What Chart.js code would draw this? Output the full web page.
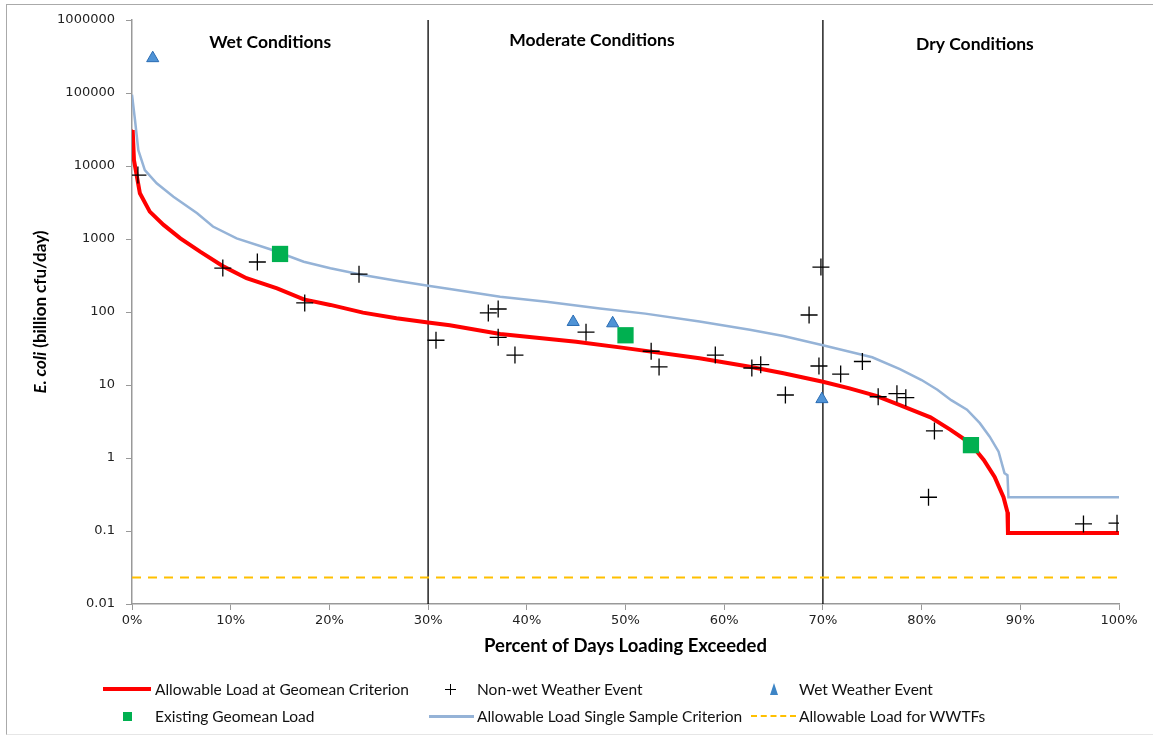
<!DOCTYPE html>
<html>
<head>
<meta charset="utf-8">
<script src="https://cdn.jsdelivr.net/npm/chart.js@4.4.1/dist/chart.umd.min.js"></script>
<style>
  html,body{margin:0;padding:0;background:#fff;}
  #wrap{position:relative;width:1153px;height:736px;overflow:hidden;}
  #frame{position:absolute;left:6px;top:4px;width:1170px;height:729px;border-left:1.5px solid #aaa;border-top:1.5px solid #aaa;border-bottom:1.5px solid #e6e6e6;}
  #chart{position:absolute;left:0;top:0;}
  .lg{position:absolute;font-family:Lato,"Noto Sans",sans-serif;font-size:15.5px;color:#111;white-space:nowrap;line-height:18px;}
  .sym{position:absolute;}
</style>
</head>
<body>
<div id="wrap">
  <div id="frame"></div>
  <canvas id="chart" width="1153" height="736"></canvas>
  <div id="legend"></div>
</div>
<script>
// percent of days exceeded (x) and E. coli load, billion cfu/day (y)
var geoX=[0,0.07,0.2,0.8,1.8,3.2,4.9,6.9,9.3,11.6,14.7,17.4,20.1,23.4,26.8,30,32.2,37.3,45,50,57.5,62.6,66,70,72.7,75.4,77.8,80.9,82.9,84.9,86.3,87.4,88.3,88.7,88.75,100];
var geoY=[30000,31000,12000,4230,2370,1560,1020,670,418,290,211,149,125,98,82,72,66,50,39,32,23.2,17.8,14.5,11.1,9.0,7.1,5.3,3.6,2.45,1.6,0.94,0.55,0.29,0.18,0.094,0.094];

var ssX=[0,0.3,0.64,1.3,2.5,4.2,6.6,8.2,10.6,14,17.4,20.1,23.4,26.8,30,32.2,37.3,42,47.4,52,57.5,62.6,66,70,75,77.8,80,81.6,83,84.6,85.9,86.9,87.8,88.4,88.7,88.8,100];
var ssY=[95000,43000,16500,8800,5800,3800,2250,1480,1020,723,489,397,321,268,229,206,162,138,112,95,74,57,47,35,24,16.5,11.7,8.6,6.2,4.6,3.0,1.96,1.22,0.62,0.58,0.29,0.29];

var wwtfLoad=0.023;

var dryX=[0.6,9.2,12.7,17.5,23,30.8,36.1,37.1,37.1,38.8,46,52.6,53.4,59.1,62.8,63.7,66.2,68.6,69.8,69.6,71.8,74,75.6,77.5,78.4,80.7,81.3,96.4,99.8];
var dryY=[7500,400,484,133,330,41,97,110,45,25.7,53,29,17.7,25.7,17.1,19,7.3,91,413,18.2,14.1,21,6.9,7.6,6.7,0.29,2.35,0.125,0.128];

var wetX=[2.1,44.7,48.7,69.9];
var wetY=[300000,73,70,6.4];

var existX=[15,50,85];
var existY=[624,48,1.5];

var zoneBreaks=[30,70];
var zoneNames=['Wet Conditions','Moderate Conditions','Dry Conditions'];
var zoneLabelX=[14,46.6,85.4];

var yTicks=[0.01,0.1,1,10,100,1000,10000,100000,1000000];
var xTicks=[0,10,20,30,40,50,60,70,80,90,100];

function pts(xs,ys){return xs.map(function(x,i){return {x:x,y:ys[i]};});}

var datasets=[
  {label:'Existing Geomean Load',data:pts(existX,existY),pointStyle:'rect',pointRadius:11.5,backgroundColor:'#00B050',borderWidth:0,showLine:false},
  {label:'Wet Weather Event',data:pts(wetX,wetY),pointStyle:'triangle',pointRadius:7,backgroundColor:'#4F93D6',borderColor:'#2A6CB3',borderWidth:1,showLine:false},
  {label:'Non-wet Weather Event',data:pts(dryX,dryY),pointStyle:'cross',pointRadius:8.5,borderColor:'#000',borderWidth:1.3,showLine:false},
  {label:'Allowable Load at Geomean Criterion',data:pts(geoX,geoY),showLine:true,borderColor:'#FF0000',borderWidth:4,pointRadius:0},
  {label:'Allowable Load Single Sample Criterion',data:pts(ssX,ssY),showLine:true,borderColor:'#95B3D7',borderWidth:2.5,pointRadius:0},
  {label:'Allowable Load for WWTFs',data:[{x:0,y:wwtfLoad},{x:100,y:wwtfLoad}],showLine:true,borderColor:'#FFC000',borderWidth:2,borderDash:[9,7],pointRadius:0}
];
zoneBreaks.forEach(function(b){
  datasets.push({label:'break',data:[{x:b,y:yTicks[0]},{x:b,y:yTicks[yTicks.length-1]}],showLine:true,borderColor:'#000',borderWidth:1.3,pointRadius:0});
});

var textPlugin={
  id:'texts',
  afterDatasetsDraw:function(chart){
    var ctx=chart.ctx, a=chart.chartArea, xs=chart.scales.x;
    ctx.save();
    ctx.fillStyle='#000';
    ctx.textAlign='center';
    ctx.textBaseline='middle';
    ctx.font='bold 17.5px Lato, "Noto Sans", sans-serif';
    zoneNames.forEach(function(n,i){
      ctx.fillText(n,xs.getPixelForValue(zoneLabelX[i]),a.top+22+(i==1?-2:(i==2?2:0)));
    });
    // y title with italic species name
    var cy=(a.top+a.bottom)/2;
    ctx.translate(41,cy);
    ctx.rotate(-Math.PI/2);
    var f1='italic bold 17px Lato, "Noto Sans", sans-serif', f2='bold 17px Lato, "Noto Sans", sans-serif';
    var t1='E. coli', t2=' (billion cfu/day)';
    ctx.font=f1; var w1=ctx.measureText(t1).width;
    ctx.font=f2; var w2=ctx.measureText(t2).width;
    var sx=-(w1+w2)/2;
    ctx.textAlign='left';
    ctx.font=f1; ctx.fillText(t1,sx,0);
    ctx.font=f2; ctx.fillText(t2,sx+w1,0);
    ctx.restore();
  }
};

new Chart(document.getElementById('chart'),{
  type:'scatter',
  data:{datasets:datasets},
  plugins:[textPlugin],
  options:{
    responsive:false,
    animation:false,
    layout:{padding:{top:20,right:34,bottom:76,left:0}},
    plugins:{legend:{display:false},tooltip:{enabled:false}},
    scales:{
      x:{
        type:'linear',min:0,max:100,
        afterBuildTicks:function(s){s.ticks=xTicks.map(function(v){return {value:v};});},
        afterFit:function(s){s.height=56;},
        ticks:{callback:function(v){return v+'%';},color:'#222',padding:3,maxRotation:0,font:{family:'"DejaVu Sans"',size:13}},
        grid:{drawOnChartArea:false,drawTicks:true,tickLength:6,color:'#999'},
        border:{color:'#999',width:1.5},
        title:{display:true,text:'Percent of Days Loading Exceeded',color:'#000',font:{family:'Lato',weight:'bold',size:18.5},padding:{top:0,bottom:3}}
      },
      y:{
        type:'logarithmic',min:0.01,max:1000000,
        afterBuildTicks:function(s){s.ticks=yTicks.map(function(v){return {value:v};});},
        afterFit:function(s){s.width=132;},
        ticks:{callback:function(v){return String(v);},color:'#222',padding:11,font:{family:'"DejaVu Sans"',size:13}},
        grid:{drawOnChartArea:false,drawTicks:true,tickLength:6,color:'#999'},
        border:{color:'#999',width:1.5}
      }
    }
  }
});

// legend, three columns by two rows
var legend=document.getElementById('legend');
var items=[
  {text:datasets[3].label,tx:155,row:0,sym:'line',sx:103,sw:48,col:'#FF0000',th:4},
  {text:datasets[2].label,tx:477,row:0,sym:'plus',sx:450},
  {text:datasets[1].label,tx:799,row:0,sym:'tri',sx:774},
  {text:datasets[0].label,tx:155,row:1,sym:'sq',sx:128},
  {text:datasets[4].label,tx:477,row:1,sym:'line',sx:429,sw:45,col:'#95B3D7',th:3},
  {text:datasets[5].label,tx:799,row:1,sym:'dash',sx:751,sw:45}
];
var rowY=[689,716];
items.forEach(function(it){
  var cy=rowY[it.row];
  var t=document.createElement('div');
  t.className='lg'; t.textContent=it.text;
  t.style.left=it.tx+'px'; t.style.top=(cy-9)+'px';
  legend.appendChild(t);
  var s=document.createElement('div'); s.className='sym';
  if(it.sym=='line'){
    s.style.cssText+='left:'+it.sx+'px;top:'+(cy-it.th/2)+'px;width:'+it.sw+'px;height:'+it.th+'px;background:'+it.col+';';
  }else if(it.sym=='dash'){
    s.style.cssText+='left:'+it.sx+'px;top:'+(cy-1)+'px;width:'+it.sw+'px;height:0;border-top:2px dashed #FFC000;';
  }else if(it.sym=='sq'){
    s.style.cssText+='left:'+(it.sx-5)+'px;top:'+(cy-4)+'px;width:9px;height:9px;background:#00B050;';
  }else if(it.sym=='tri'){
    s.style.cssText+='left:'+(it.sx-4)+'px;top:'+(cy-6)+'px;width:0;height:0;border-left:4px solid transparent;border-right:4px solid transparent;border-bottom:12px solid #3D85C6;';
  }else if(it.sym=='plus'){
    s.style.cssText+='left:'+(it.sx-5)+'px;top:'+(cy-5)+'px;width:11px;height:11px;background:linear-gradient(#000,#000) center/11px 1px no-repeat,linear-gradient(#000,#000) center/1px 11px no-repeat;';
  }
  legend.appendChild(s);
});
</script>
</body>
</html>
